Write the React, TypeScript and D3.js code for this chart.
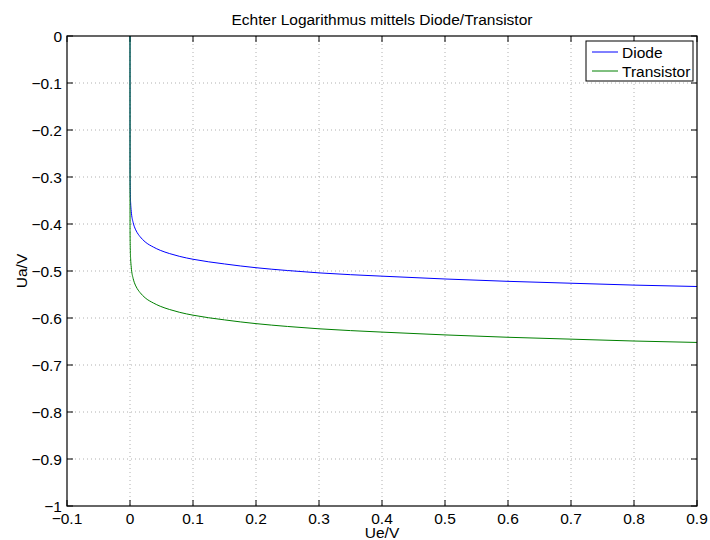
import React from "react";
import * as d3 from "d3";

const title = "Echter Logarithmus mittels Diode/Transistor";
const xLabel = "Ue/V";
const yLabel = "Ua/V";
const xTicks = [-0.1, 0, 0.1, 0.2, 0.3, 0.4, 0.5, 0.6, 0.7, 0.8, 0.9];
const yTicks = [0, -0.1, -0.2, -0.3, -0.4, -0.5, -0.6, -0.7, -0.8, -0.9, -1];
const seriesNames = ["Diode", "Transistor"];
const seriesColors = ["#0000ff", "#008000"];

const ue = [0, 0.0001, 0.0005, 0.001, 0.002, 0.005, 0.007, 0.01, 0.016, 0.024, 0.037, 0.048, 0.063, 0.079, 0.1, 0.15, 0.2, 0.25, 0.3, 0.4, 0.5, 0.6, 0.7, 0.8, 0.9];
const diode = [0, -0.296, -0.337, -0.355, -0.373, -0.397, -0.406, -0.415, -0.427, -0.438, -0.449, -0.456, -0.463, -0.469, -0.475, -0.485, -0.493, -0.499, -0.504, -0.511, -0.517, -0.522, -0.526, -0.530, -0.533];
const transistor = [0, -0.415, -0.456, -0.474, -0.492, -0.516, -0.525, -0.534, -0.546, -0.557, -0.568, -0.575, -0.582, -0.588, -0.594, -0.604, -0.612, -0.618, -0.623, -0.630, -0.636, -0.641, -0.645, -0.649, -0.652];

const W = 710, H = 540;
const L = 67, R = 697, T = 36, B = 506;
const font = "'Liberation Sans', Arial, Helvetica, sans-serif";
const fs = 15.5;

const fmt = (v: number) => {
  const s = d3.format("")(Math.round(v * 10) / 10);
  return s.replace("-", "\u2212");
};

export default function App() {
  const x = d3.scaleLinear().domain([-0.1, 0.9]).range([L, R]);
  const y = d3.scaleLinear().domain([-1, 0]).range([B, T]);
  const line = d3.line<number>().x((_, i) => x(ue[i])).y((d) => y(d)).curve(d3.curveMonotoneX);
  const series = [diode, transistor];
  const tick = 6;
  return (
    <svg width={W} height={H} style={{ position: "absolute", left: 0, top: 0, background: "#fff" }} fontFamily={font}>
      <rect x={0} y={0} width={W} height={H} fill="#fff" />
      {/* grid */}
      {xTicks.slice(1, -1).map((t) => (
        <line key={"gx" + t} x1={x(t)} x2={x(t)} y1={T} y2={B} stroke="#b0b0b0" strokeWidth={1} strokeDasharray="1 3" />
      ))}
      {yTicks.slice(1, -1).map((t) => (
        <line key={"gy" + t} x1={L} x2={R} y1={y(t)} y2={y(t)} stroke="#b0b0b0" strokeWidth={1} strokeDasharray="1 3" />
      ))}
      {/* ticks */}
      {xTicks.map((t) => (
        <g key={"tx" + t}>
          <line x1={x(t)} x2={x(t)} y1={B} y2={B - tick} stroke="#000" />
          <line x1={x(t)} x2={x(t)} y1={T} y2={T + tick} stroke="#000" />
          <text x={x(t)} y={524} fontSize={fs} textAnchor="middle">{fmt(t)}</text>
        </g>
      ))}
      {yTicks.map((t) => (
        <g key={"ty" + t}>
          <line x1={L} x2={L + tick} y1={y(t)} y2={y(t)} stroke="#000" />
          <line x1={R} x2={R - tick} y1={y(t)} y2={y(t)} stroke="#000" />
          <text x={L - 5} y={y(t) + 5.5} fontSize={fs} textAnchor="end">{fmt(t)}</text>
        </g>
      ))}
      {/* lines */}
      {series.map((s, i) => (
        <path key={"s" + i} d={line(s) || ""} fill="none" stroke={seriesColors[i]} strokeWidth={1} />
      ))}
      {/* frame */}
      <rect x={L} y={T} width={R - L} height={B - T} fill="none" stroke="#000" strokeWidth={1.2} />
      {/* title / labels */}
      <text x={(L + R) / 2} y={25} fontSize={fs} textAnchor="middle">{title}</text>
      <text x={(L + R) / 2} y={538} fontSize={fs} textAnchor="middle">{xLabel}</text>
      <text transform={`translate(27,${(T + B) / 2}) rotate(-90)`} fontSize={fs} textAnchor="middle">{yLabel}</text>
      {/* legend */}
      <rect x={586} y={41} width={107} height={40} fill="#fff" stroke="#000" strokeWidth={1} />
      {seriesNames.map((n, i) => (
        <g key={"lg" + n}>
          <line x1={592} x2={618} y1={52 + i * 19} y2={52 + i * 19} stroke={seriesColors[i]} />
          <text x={622} y={57.5 + i * 19} fontSize={fs}>{n}</text>
        </g>
      ))}
    </svg>
  );
}
